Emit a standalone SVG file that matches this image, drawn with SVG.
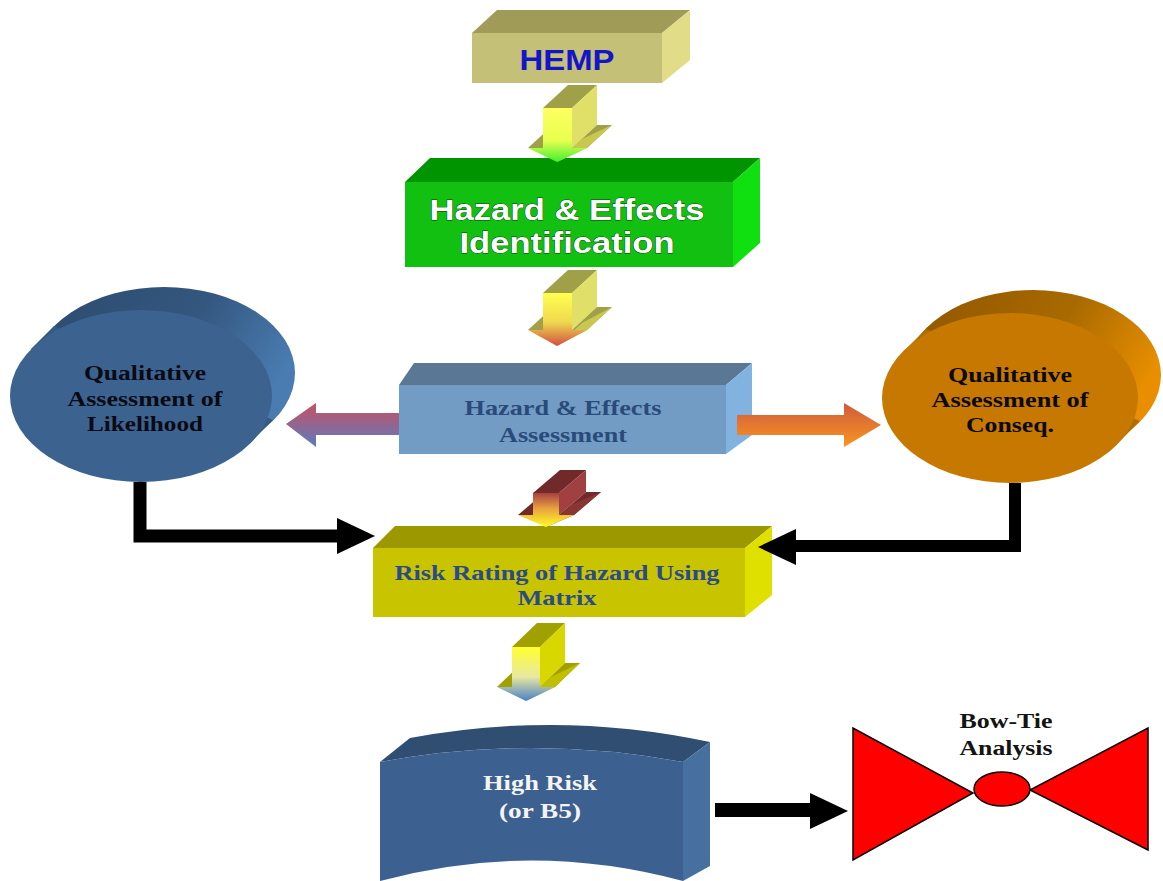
<svg xmlns="http://www.w3.org/2000/svg" width="1163" height="881" viewBox="0 0 1163 881">
<defs>
<style>
.sans{font-family:"Liberation Sans",Arial,sans-serif;font-weight:bold;text-anchor:middle}
.serif{font-family:"Liberation Serif","Times New Roman",serif;font-weight:bold;text-anchor:middle}
.conn{fill:none;stroke:#000;stroke-linejoin:miter}
.head{fill:#000}
</style>
<linearGradient id="gA1" x1="0" y1="0" x2="0" y2="1"><stop offset="0" stop-color="#ffff60"/><stop offset="0.6" stop-color="#e8ff50"/><stop offset="1" stop-color="#40f030"/></linearGradient>
<linearGradient id="gA2" x1="0" y1="0" x2="0" y2="1"><stop offset="0" stop-color="#ffff50"/><stop offset="0.55" stop-color="#f0d850"/><stop offset="1" stop-color="#d05040"/></linearGradient>
<linearGradient id="gA3" x1="0" y1="0" x2="0" y2="1"><stop offset="0" stop-color="#a84040"/><stop offset="0.45" stop-color="#e8a040"/><stop offset="1" stop-color="#ffff20"/></linearGradient>
<linearGradient id="gA4" x1="0" y1="0" x2="0" y2="1"><stop offset="0" stop-color="#ffff30"/><stop offset="0.55" stop-color="#e8e8a0"/><stop offset="1" stop-color="#4a80c8"/></linearGradient>
<linearGradient id="gL" x1="0" y1="0" x2="0" y2="1"><stop offset="0" stop-color="#c85060"/><stop offset="1" stop-color="#5a7cc0"/></linearGradient>
<linearGradient id="gR" x1="0" y1="0" x2="0" y2="1"><stop offset="0" stop-color="#d05a40"/><stop offset="1" stop-color="#f8961e"/></linearGradient>
<linearGradient id="gBackB" x1="0" y1="0" x2="1" y2="0.4"><stop offset="0" stop-color="#2c4a6e"/><stop offset="0.6" stop-color="#34577f"/><stop offset="1" stop-color="#4a7cb2"/></linearGradient>
<linearGradient id="gBackO" x1="0" y1="0" x2="1" y2="0.4"><stop offset="0" stop-color="#905400"/><stop offset="0.6" stop-color="#a86a00"/><stop offset="1" stop-color="#e88e00"/></linearGradient>
</defs>
<rect width="1163" height="881" fill="#ffffff"/>

<g id="hemp">
<polygon points="472,33 497,10 690,10 662,33" fill="#a09c58"/>
<polygon points="662,33 690,10 690,60 662,83" fill="#e0dc88"/>
<rect x="472" y="33" width="190" height="50" fill="#c4c078"/>
<text class="sans" x="567" y="70" font-size="30" fill="#1414c8" textLength="95" lengthAdjust="spacingAndGlyphs">HEMP</text>
</g>

<g id="identification">
<polygon points="405,182 430,158 760,158 733,182" fill="#009400"/>
<polygon points="733,182 760,158 760,243 733,267" fill="#10e010"/>
<rect x="405" y="182" width="328" height="85" fill="#12c012"/>
<text class="sans" x="567" y="220" font-size="29" fill="#ffffff" stroke="#0a400a" stroke-width="0.8" paint-order="stroke" textLength="275" lengthAdjust="spacingAndGlyphs">Hazard &amp; Effects</text>
<text class="sans" x="567" y="253" font-size="29" fill="#ffffff" stroke="#0a400a" stroke-width="0.8" paint-order="stroke" textLength="215" lengthAdjust="spacingAndGlyphs">Identification</text>
</g>

<g id="likelihood">
<ellipse cx="164" cy="373" rx="131" ry="86" fill="url(#gBackB)"/>
<polygon points="250,443 273,420 54,326 31,349" fill="#365a84"/>
<ellipse cx="141" cy="396" rx="131" ry="86" fill="#3c6390"/>
<text class="serif" font-size="20" fill="#0a0a14"><tspan x="145" y="380" textLength="122" lengthAdjust="spacingAndGlyphs">Qualitative</tspan><tspan x="145" y="406" textLength="155" lengthAdjust="spacingAndGlyphs">Assessment of</tspan><tspan x="145" y="431" textLength="116" lengthAdjust="spacingAndGlyphs">Likelihood</tspan></text>
</g>

<g id="consequence">
<ellipse cx="1033" cy="375" rx="128" ry="85" fill="url(#gBackO)"/>
<polygon points="1117,444 1140,421 926,329 903,352" fill="#b06e00"/>
<ellipse cx="1010" cy="398" rx="128" ry="85" fill="#c67800"/>
<text class="serif" font-size="20" fill="#0a0a0a"><tspan x="1010" y="382" textLength="124" lengthAdjust="spacingAndGlyphs">Qualitative</tspan><tspan x="1010" y="407" textLength="157" lengthAdjust="spacingAndGlyphs">Assessment of</tspan><tspan x="1010" y="432" textLength="88" lengthAdjust="spacingAndGlyphs">Conseq.</tspan></text>
</g>

<g id="assessment">
<polygon points="399,385 414,363 752,363 726,385" fill="#5a7896"/>
<polygon points="726,385 752,363 752,435 726,454" fill="#82b2e0"/>
<rect x="399" y="385" width="327" height="69" fill="#729cc4"/>
<text class="serif" x="563" y="415" font-size="21" fill="#2a4a7a" textLength="197" lengthAdjust="spacingAndGlyphs">Hazard &amp; Effects</text>
<text class="serif" x="563" y="442" font-size="21" fill="#2a4a7a" textLength="128" lengthAdjust="spacingAndGlyphs">Assessment</text>
</g>

<g id="risk-rating">
<polygon points="373,548 395,526 772,526 745,548" fill="#9c9800"/>
<polygon points="745,548 772,526 772,595 745,617" fill="#e0e000"/>
<rect x="373" y="548" width="372" height="69" fill="#c8c400"/>
<text class="serif" x="557" y="580" font-size="22" fill="#2a4a8a" textLength="325" lengthAdjust="spacingAndGlyphs">Risk Rating of Hazard Using</text>
<text class="serif" x="557" y="605" font-size="22" fill="#2a4a8a" textLength="79" lengthAdjust="spacingAndGlyphs">Matrix</text>
</g>

<g id="high-risk">
<path d="M380,762 L410,738 Q560,710 710,742 L683,762 Q531,734 380,762 Z" fill="#2f4e72"/>
<path d="M683,762 L710,742 L710,866 L683,881 Z" fill="#4670a0"/>
<path d="M380,762 Q531,734 683,762 L683,881 Q531,840 380,881 Z" fill="#3c6090"/>
<text class="serif" x="540" y="790" font-size="21" fill="#f4f4f4" textLength="114" lengthAdjust="spacingAndGlyphs">High Risk</text>
<text class="serif" x="540" y="818" font-size="21" fill="#f4f4f4" textLength="82" lengthAdjust="spacingAndGlyphs">(or B5)</text>
</g>

<g id="bow-tie">
<polygon points="853,728 853,860 973,793" fill="#ff0000" stroke="#000" stroke-width="1.5"/>
<polygon points="1148,728 1148,850 1030,790" fill="#ff0000" stroke="#000" stroke-width="1.5"/>
<ellipse cx="1002" cy="789" rx="28" ry="17" fill="#ff0000" stroke="#000" stroke-width="1.5"/>
<text class="serif" x="1006" y="728" font-size="20" fill="#141414" textLength="93" lengthAdjust="spacingAndGlyphs">Bow-Tie</text>
<text class="serif" x="1006" y="755" font-size="20" fill="#141414" textLength="93" lengthAdjust="spacingAndGlyphs">Analysis</text>
</g>

<g id="connectors">
<!-- HEMP -> Identification -->
<g>
<polygon points="528,148 543,148 568,125 553,125" fill="#a0a048"/>
<polygon points="543,108 568,85 597,85 572,108" fill="#a0a048"/>
<polygon points="572,108 597,85 597,125 572,148" fill="#e0e068"/>
<polygon points="572,148 587,148 612,125 597,125" fill="#a0a048"/>
<polygon points="587,148 612,125 582,139 557,162" fill="#c8c850"/>
<polygon points="543,108 572,108 572,148 587,148 557,162 528,148 543,148" fill="url(#gA1)"/>
</g>
<!-- Identification -> Assessment -->
<g>
<polygon points="528,330 543,330 568,307 553,307" fill="#a0a048"/>
<polygon points="543,293 568,270 597,270 572,293" fill="#a0a048"/>
<polygon points="572,293 597,270 597,307 572,330" fill="#e0e068"/>
<polygon points="572,330 587,330 612,307 597,307" fill="#a0a048"/>
<polygon points="587,330 612,307 582,323 557,346" fill="#c8c850"/>
<polygon points="543,293 572,293 572,330 587,330 557,346 528,330 543,330" fill="url(#gA2)"/>
</g>
<!-- Assessment -> Risk Rating -->
<g>
<polygon points="518,515 533,515 560,492 545,492" fill="#702a2a"/>
<polygon points="533,493 560,470 586,470 559,493" fill="#702a2a"/>
<polygon points="559,493 586,470 586,492 559,515" fill="#a04040"/>
<polygon points="559,515 574,515 601,492 586,492" fill="#702a2a"/>
<polygon points="574,515 601,492 573,504 546,527" fill="#8a3434"/>
<polygon points="533,493 559,493 559,515 574,515 546,527 518,515 533,515" fill="url(#gA3)"/>
</g>
<!-- Risk Rating -> High Risk -->
<g>
<polygon points="497,687 512,687 537,663 522,663" fill="#a0a000"/>
<polygon points="512,647 537,623 565,623 540,647" fill="#a0a000"/>
<polygon points="540,647 565,623 565,663 540,687" fill="#d8d800"/>
<polygon points="540,687 555,687 580,663 565,663" fill="#a0a000"/>
<polygon points="555,687 580,663 551,677 526,701" fill="#c0c000"/>
<polygon points="512,647 540,647 540,687 555,687 526,701 497,687 512,687" fill="url(#gA4)"/>
</g>
<!-- Assessment -> Likelihood -->
<polygon points="399,413 316,413 316,403 286,424 316,447 316,435 399,435" fill="url(#gL)"/>
<!-- Assessment -> Consequence -->
<polygon points="737,415 844,415 844,403 881,425 844,447 844,435 737,435" fill="url(#gR)"/>
<!-- Likelihood -> Risk Rating -->
<path class="conn" d="M140,482 V536 H340" stroke-width="13"/>
<polygon class="head" points="337,518 375,536 337,554"/>
<!-- Consequence -> Risk Rating -->
<path class="conn" d="M1015,483 V546 H793" stroke-width="12"/>
<polygon class="head" points="796,529 758,547 796,565"/>
<!-- High Risk -> Bow-Tie -->
<path class="conn" d="M715,810 H812" stroke-width="14"/>
<polygon class="head" points="810,793 848,811 810,829"/>
</g>
</svg>
